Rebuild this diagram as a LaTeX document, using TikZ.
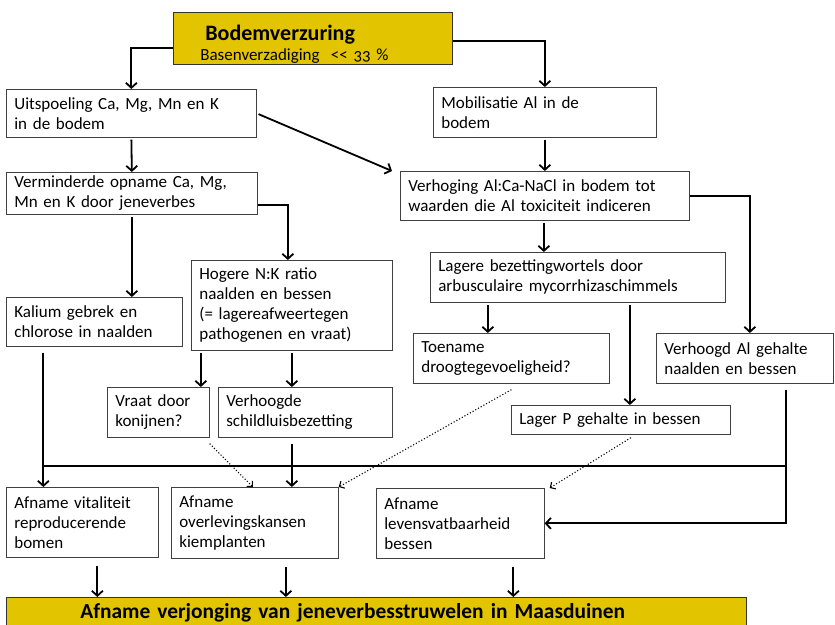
\documentclass[tikz,border=0pt]{standalone}
\usepackage{fontspec}
\setmainfont{Carlito}[Numbers=OldStyle]
\usetikzlibrary{arrows.meta,positioning,calc}
\definecolor{bodemgeel}{RGB}{227,196,0}

\begin{document}
\begin{tikzpicture}[x=1pt,y=-1pt,
  box/.style={draw=black!75,fill=white,line width=0.7pt,align=left,anchor=north west,
    inner xsep=8pt,inner ysep=1pt,font=\fontsize{17}{20}\selectfont},
  kop/.style={box,fill=bodemgeel,draw=black!80},
  arr/.style={line width=1.8pt,-{Straight Barb[length=5pt,width=11pt]},shorten <=2pt},
  lijn/.style={line width=1.8pt},
  stip/.style={dotted,line width=1.1pt,-{Straight Barb[length=4pt,width=8pt]}}]
\useasboundingbox (0,0) rectangle (835,624);

% bovenste rij
\node[kop,inner xsep=27pt,text width=225pt,minimum height=50pt] (verzuring) at (173,12)
  {\rule{0pt}{27pt}\hspace*{5pt}{\bfseries\fontsize{22}{20}\selectfont Bodemverzuring}\\Basenverzadiging\ \ <{}< 33 \%};
\node[box,text width=234pt,minimum height=48pt] (uitspoeling) at (6,89) {Uitspoeling Ca, Mg, Mn en K\\in de bodem};
\node[box,text width=207pt,minimum height=50pt] (mobilisatie) at (433,87) {Mobilisatie Al in de\\bodem};
\node[box,text width=235pt,minimum height=42pt] (opname) at (6,172) {Verminderde opname Ca, Mg,\\Mn en K door jeneverbes};
\node[box,text width=273pt,minimum height=49pt] (verhoging) at (400,171) {Verhoging Al:Ca-NaCl in bodem tot\\waarden die Al toxiciteit indiceren};

% middelste rijen
\node[box,text width=160pt,minimum height=49pt] (kalium) at (6,297) {Kalium gebrek en\\chlorose in naalden};
\node[box,text width=185pt,minimum height=90pt] (nkratio) at (191,260) {Hogere N:K ratio\\naalden en bessen\\(= lagereafweertegen\\pathogenen en vraat)};
\node[box,text width=279pt,minimum height=50pt] (mycorrhiza) at (430,252) {Lagere bezettingwortels door\\arbusculaire mycorrhizaschimmels};
\node[box,text width=180pt,minimum height=50pt] (droogte) at (413,333) {Toename\\droogtegevoeligheid?};
\node[box,text width=161pt,minimum height=50pt] (algehalte) at (656,333) {Verhoogd Al gehalte\\naalden en bessen};
\node[box,text width=203pt,minimum height=29pt] (pgehalte) at (511,405) {Lager P gehalte in bessen};
\node[box,text width=86pt,minimum height=50pt] (konijnen) at (107,387) {Vraat door\\konijnen?};
\node[box,text width=158pt,minimum height=50pt] (schildluis) at (218,387) {Verhoogde\\schildluisbezetting};

% gevolgen
\node[box,text width=136pt,minimum height=70pt] (vitaliteit) at (6,487) {Afname vitaliteit\\reproducerende\\bomen};
\node[box,text width=151pt,minimum height=71pt] (kiemplanten) at (171,487) {Afname\\overlevingskansen\\kiemplanten};
\node[box,text width=152pt,minimum height=70pt] (bessen) at (376,488) {Afname\\levensvatbaarheid\\bessen};
\node[kop,inner xsep=74pt,text width=592pt,minimum height=31pt,font=\bfseries\fontsize{21.4}{20}\selectfont] (verjonging) at (6,597)
  {Afname verjonging van jeneverbesstruwelen in Maasduinen};

\coordinate (busw) at (43,466);
\coordinate (buso) at (786,466);

% pijlen
\draw[arr,shorten <=0pt] ([yshift=-10pt]verzuring.west) -| (uitspoeling.north);
\draw[arr,shorten <=0pt] ([yshift=-3pt]verzuring.east) -| (mobilisatie.north);
\draw[arr] (uitspoeling.south) -- (opname.north);
\draw[arr] (uitspoeling.east) -- ([xshift=-8pt]verhoging.north west);
\draw[arr] (mobilisatie.south) -- (verhoging.north);
\draw[arr,shorten <=0pt] (verhoging.east) -| ([xshift=5pt]algehalte.north);
\draw[arr,shorten <=0pt] ([yshift=-12pt]opname.east) -| ([xshift=-4pt]nkratio.north);
\draw[arr] (opname.south) -- (opname.south |- kalium.north);
\draw[arr] ([xshift=-91pt]nkratio.south) -- ([xshift=-91pt]nkratio.south |- konijnen.north);
\draw[arr] (nkratio.south) -- (nkratio.south |- schildluis.north);
\draw[arr] ([xshift=-34pt]mycorrhiza.north |- verhoging.south) -- ([xshift=-34pt]mycorrhiza.north);
\draw[arr] ([xshift=-90pt]mycorrhiza.south) -- ([xshift=-90pt]mycorrhiza.south |- droogte.north);
\draw[arr] ([xshift=52pt]mycorrhiza.south) -- ([xshift=52pt]mycorrhiza.south |- pgehalte.north);

% verzamellijn
\draw[arr,shorten <=6pt] ([xshift=-51pt]kalium.south) -- ([xshift=-51pt]kalium.south |- vitaliteit.north);
\draw[lijn] (busw) -- (buso);
\draw[arr,shorten <=6pt] ([xshift=41pt]algehalte.south) |- (bessen.east);
\draw[arr,shorten <=6pt] (nkratio.south |- schildluis.south) -- (nkratio.south |- kiemplanten.north);

% onzekere relaties
\draw[stip] ([yshift=-6pt]konijnen.south east) -- ([xshift=-2pt]kiemplanten.north);
\draw[stip] ([yshift=-6pt]droogte.south) -- (kiemplanten.north east);
\draw[stip] ([xshift=10pt,yshift=-3pt]pgehalte.south) -- ([xshift=5pt]bessen.north east);

% naar onderste balk
\draw[arr] ([xshift=15pt,yshift=-6pt]vitaliteit.south) -- ([xshift=15pt]vitaliteit.south |- verjonging.north);
\draw[arr] ([xshift=31pt,yshift=-6pt]kiemplanten.south) -- ([xshift=31pt]kiemplanten.south |- verjonging.north);
\draw[arr] ([xshift=53pt,yshift=-6pt]bessen.south) -- ([xshift=53pt]bessen.south |- verjonging.north);
\end{tikzpicture}
\end{document}
